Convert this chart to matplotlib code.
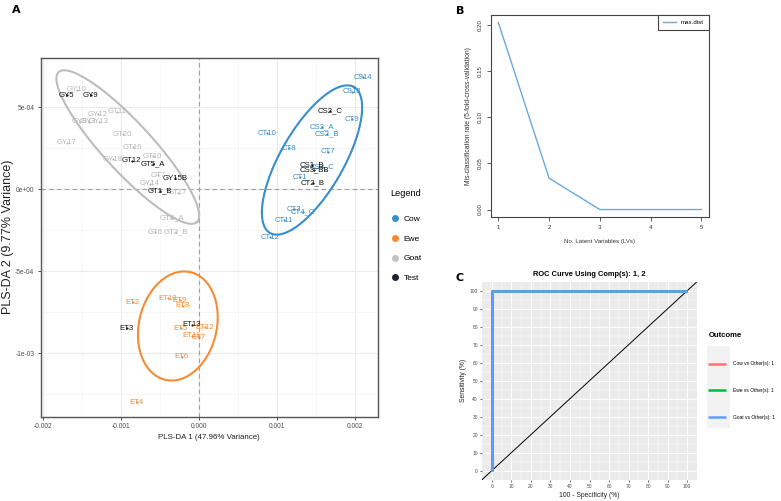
import numpy as np
import matplotlib
matplotlib.use("Agg")
import matplotlib.pyplot as plt
from matplotlib.lines import Line2D
from matplotlib.patches import Rectangle

# ---------------------------------------------------------------------------
# Data
# ---------------------------------------------------------------------------

# Panel A: PLS-DA scores (component 1, component 2)
COW_LABELS = ["C914", "C913", "CT9", "CT10", "CS2_A", "CS2_B", "CT8", "CT7",
              "CS3_C", "CT1", "CT3", "CT4_C", "CT11", "CT12"]
COW_X = [0.002103, 0.001962, 0.001962, 0.000872, 0.001577, 0.001641, 0.001154,
         0.001654, 0.001577, 0.001295, 0.001218, 0.001333, 0.001090, 0.000910]
COW_Y = [0.000683, 0.000592, 0.000427, 0.000341, 0.000378, 0.000335, 0.000250,
         0.000226, 0.000134, 0.000073, -0.000122, -0.000140, -0.000189, -0.000293]

EWE_LABELS = ["ET2", "ET10", "ET9", "ET8", "ET5", "ET11", "ET12", "ET7", "ET6", "ET4"]
EWE_X = [-0.000846, -0.000397, -0.000244, -0.000205, -0.000231, -0.000090,
         0.000077, 0.000000, -0.000218, -0.000795]
EWE_Y = [-0.000689, -0.000665, -0.000677, -0.000713, -0.000848, -0.000896,
         -0.000842, -0.000903, -0.001024, -0.001299]

GOAT_LABELS = ["GY10", "GY12", "GT11", "GY8", "GY3", "GY13", "GT20", "GY17",
               "GT16", "GY18", "GT10", "GT7", "GY14", "GT17", "GT8_A", "GT6", "GT2_B"]
GOAT_X = [-0.001564, -0.001295, -0.001051, -0.001526, -0.001410, -0.001282,
          -0.000974, -0.001692, -0.000846, -0.001103, -0.000590, -0.000526,
          -0.000628, -0.000269, -0.000346, -0.000564, -0.000295]
GOAT_Y = [0.000604, 0.000457, 0.000470, 0.000409, 0.000409, 0.000409, 0.000335,
          0.000281, 0.000256, 0.000183, 0.000201, 0.000085, 0.000031, -0.000024,
          -0.000177, -0.000262, -0.000262]

TEST_LABELS = ["GY5", "GY9", "GT12", "GT5_A", "GY15B", "GT1_B", "CS2_C",
               "CS1_B", "CS3_BB", "CT2_B", "ET3", "ET13"]
TEST_X = [-0.001692, -0.001385, -0.000859, -0.000590, -0.000308, -0.000500,
          0.001679, 0.001449, 0.001474, 0.001462, -0.000923, -0.000090]
TEST_Y = [0.000573, 0.000573, 0.000171, 0.000152, 0.000067, -0.000012,
          0.000476, 0.000146, 0.000116, 0.000037, -0.000848, -0.000829]

# confidence ellipses: centre and two semi-axis vectors (data units)
COW_ELLIPSE = [(0.001449, 0.000177), (0.000538, 0.000445), (0.000350, -0.0000960)]
EWE_ELLIPSE = [(-0.000269, -0.000835), (0.000154, 0.000329), (0.000487, -0.0000488)]
GOAT_ELLIPSE = [(-0.000910, 0.000256), (0.000885, -0.000457), (0.000228, 0.000102)]

X_TICKS = [-0.002, -0.001, 0.0, 0.001, 0.002]
X_TICK_LABELS = ["-0.002", "-0.001", "0.000", "0.001", "0.002"]
Y_TICKS = [0.0005, 0.0, -0.0005, -0.001]
Y_TICK_LABELS = ["5e-04", "0e+00", "-5e-04", "-1e-03"]

# Panel B: cross-validation error per number of latent variables
LV = [1, 2, 3, 4, 5]
ERROR_RATE = [0.203, 0.034, 0.0, 0.0, 0.0]

# Panel C: ROC curves (100 - specificity, sensitivity)
ROC_NAMES = ["Cow vs Other(s): 1", "Ewe vs Other(s): 1", "Goat vs Other(s): 1"]
ROC_FPR = [[0, 0, 100], [0, 0, 100], [0, 0, 100]]
ROC_TPR = [[0, 100, 100], [0, 100, 100], [0, 100, 100]]

# ---------------------------------------------------------------------------
# Style
# ---------------------------------------------------------------------------
COL_COW = "#388ECC"
COL_EWE = "#F68B33"
COL_GOAT = "#BDBDBD"
COL_TEST = "#1C2333"
ROC_COLORS = ["#F8766D", "#00BA38", "#619CFF"]

plt.rcParams["font.family"] = ["Liberation Sans", "DejaVu Sans"]

W, H = 781, 501
fig = plt.figure(figsize=(W / 100, H / 100), dpi=100)


def px_box(left, top, right, bottom):
    return [left / W, 1 - bottom / H, (right - left) / W, (bottom - top) / H]


def ellipse_xy(spec):
    (cx, cy), (ax_, ay), (bx, by) = spec
    t = np.linspace(0, 2 * np.pi, 300)
    return cx + ax_ * np.cos(t) + bx * np.sin(t), cy + ay * np.cos(t) + by * np.sin(t)


# ---------------------------------------------------------------------------
# Panel A
# ---------------------------------------------------------------------------
axA = fig.add_axes(px_box(40.7, 57.5, 377.7, 417))
axA.set_xlim(-0.002025, 0.00229)
axA.set_ylim(-0.00139, 0.000802)
axA.set_xticks(X_TICKS)
axA.set_xticklabels(X_TICK_LABELS)
axA.set_yticks(Y_TICKS)
axA.set_yticklabels(Y_TICK_LABELS)
axA.set_xticks([-0.0015, -0.0005, 0.0005, 0.0015], minor=True)
axA.set_yticks([0.00025, -0.00025, -0.00075, -0.00125], minor=True)
axA.grid(True, which="major", color="#EBEBEB", lw=0.8)
axA.grid(True, which="minor", color="#F4F4F4", lw=0.5)
axA.set_axisbelow(True)
axA.tick_params(which="minor", length=0)
axA.tick_params(which="major", length=2.5, width=0.6, color="#333333",
                labelcolor="#4D4D4D", labelsize=4.8, pad=2)
for s in axA.spines.values():
    s.set_color("#555555")
    s.set_linewidth(1.0)

axA.axvline(0, color="#A0A0A0", ls=(0, (4, 3)), lw=0.8, zorder=1)
axA.axhline(0, color="#A0A0A0", ls=(0, (4, 3)), lw=0.8, zorder=1)

for spec, col in [(GOAT_ELLIPSE, COL_GOAT), (COW_ELLIPSE, COL_COW), (EWE_ELLIPSE, COL_EWE)]:
    ex, ey = ellipse_xy(spec)
    axA.plot(ex, ey, color=col, lw=1.5, zorder=2)

groups = [
    (GOAT_LABELS, GOAT_X, GOAT_Y, "#B8B8B8"),
    (COW_LABELS, COW_X, COW_Y, COL_COW),
    (EWE_LABELS, EWE_X, EWE_Y, COL_EWE),
    (TEST_LABELS, TEST_X, TEST_Y, "#111111"),
]
for labels, xs, ys, col in groups:
    axA.scatter(xs, ys, s=2.5, color=col, zorder=3, linewidths=0)
    for lab, x, y in zip(labels, xs, ys):
        axA.text(x, y, lab, color=col, fontsize=5.6,
                 ha="center", va="center", zorder=4)

axA.set_xlabel("PLS-DA 1 (47.96% Variance)", fontsize=5.7, color="#222222", labelpad=3)
axA.set_ylabel("PLS-DA 2 (9.77% Variance)", fontsize=9.0, color="#222222", labelpad=1)

legA = [Line2D([], [], ls="none", marker="o", ms=4, color=c, label=n)
        for n, c in [("Cow", COL_COW), ("Ewe", COL_EWE), ("Goat", "#C2C2C2"), ("Test", COL_TEST)]]
fig.text(390 / W, 1 - 193 / H, "Legend", fontsize=6.6, ha="left", va="center")
fig.legend(handles=legA, loc="upper left", bbox_to_anchor=(386 / W, 1 - 209 / H),
           frameon=False, prop={"size": 6.0},
           handlelength=0.8, handletextpad=0.6, labelspacing=1.45, borderpad=0.2)

fig.text(16 / W, 1 - 10 / H, "A", fontsize=8, fontweight="bold", family="DejaVu Sans",
         ha="center", va="center")

# ---------------------------------------------------------------------------
# Panel B
# ---------------------------------------------------------------------------
axB = fig.add_axes(px_box(490.7, 15, 709, 217))
axB.plot(LV, ERROR_RATE, color="#6AA8DD", lw=1.0, label="max.dist")
axB.set_xlim(0.85, 5.15)
axB.set_ylim(-0.0081, 0.2111)
axB.set_xticks(LV)
axB.set_yticks([0.0, 0.05, 0.10, 0.15, 0.20])
axB.set_yticklabels(["0.00", "0.05", "0.10", "0.15", "0.20"], rotation=90, va="center")
axB.tick_params(length=3, width=0.6, color="#444444", labelsize=4.4,
                labelcolor="#333333", pad=3)
for s in axB.spines.values():
    s.set_color("#444444")
    s.set_linewidth(0.8)
axB.set_xlabel("No. Latent Variables (LVs)", fontsize=4.4, color="#333333", labelpad=6)
axB.set_ylabel("Mis-classification rate (5-fold-cross-validation)", fontsize=4.9,
               color="#333333", labelpad=4)
axB.legend(loc="upper right", borderaxespad=0, fancybox=False, edgecolor="#444444",
           fontsize=4.4, handlelength=2.2, borderpad=0.8, framealpha=1).get_frame().set_linewidth(0.8)

fig.text(460 / W, 1 - 11 / H, "B", fontsize=8, fontweight="bold", family="DejaVu Sans",
         ha="center", va="center")

# ---------------------------------------------------------------------------
# Panel C
# ---------------------------------------------------------------------------
axC = fig.add_axes(px_box(482, 281.7, 697, 479.7))
axC.set_facecolor("#EBEBEB")
axC.set_xlim(-5, 105)
axC.set_ylim(-5, 105)
ticks10 = list(range(0, 101, 10))
axC.set_xticks(ticks10)
axC.set_yticks(ticks10)
axC.set_xticks(list(range(5, 100, 10)), minor=True)
axC.set_yticks(list(range(5, 100, 10)), minor=True)
axC.grid(True, which="major", color="white", lw=0.7)
axC.grid(True, which="minor", color="white", lw=0.35)
axC.set_axisbelow(True)
axC.tick_params(which="minor", length=0)
axC.tick_params(which="major", length=1.5, width=0.5, color="#333333",
                labelsize=3.5, labelcolor="#4D4D4D", pad=1.5)
for s in axC.spines.values():
    s.set_visible(False)

axC.plot([-5, 105], [-5, 105], color="black", lw=0.7, zorder=2)
roc_handles = []
for name, fpr, tpr, col in zip(ROC_NAMES, ROC_FPR, ROC_TPR, ROC_COLORS):
    h, = axC.plot(fpr, tpr, color=col, lw=1.8, label=name, zorder=3,
                  solid_capstyle="butt")
    roc_handles.append(h)

axC.set_title("ROC Curve Using Comp(s): 1, 2", fontsize=5.4, fontweight="bold", pad=4)
axC.set_xlabel("100 - Specificity (%)", fontsize=4.9, color="#222222", labelpad=2)
axC.set_ylabel("Sensitivity (%)", fontsize=4.9, color="#222222", labelpad=2)

fig.patches.append(Rectangle((707 / W, 1 - 428 / H), 23 / W, 82 / H,
                             transform=fig.transFigure, facecolor="#F2F2F2",
                             edgecolor="none", zorder=1))
fig.legend(handles=roc_handles, loc="upper left", bbox_to_anchor=(705 / W, 1 - 329 / H),
           frameon=False, title="Outcome", alignment="left", fontsize=3.5,
           title_fontproperties={"size": 5.5, "weight": "bold"},
           handlelength=3.7, handletextpad=1.4, labelspacing=4.5, borderpad=0.2)

fig.text(460 / W, 1 - 278 / H, "C", fontsize=8, fontweight="bold", family="DejaVu Sans",
         ha="center", va="center")

fig.savefig("out.png", dpi=100)
